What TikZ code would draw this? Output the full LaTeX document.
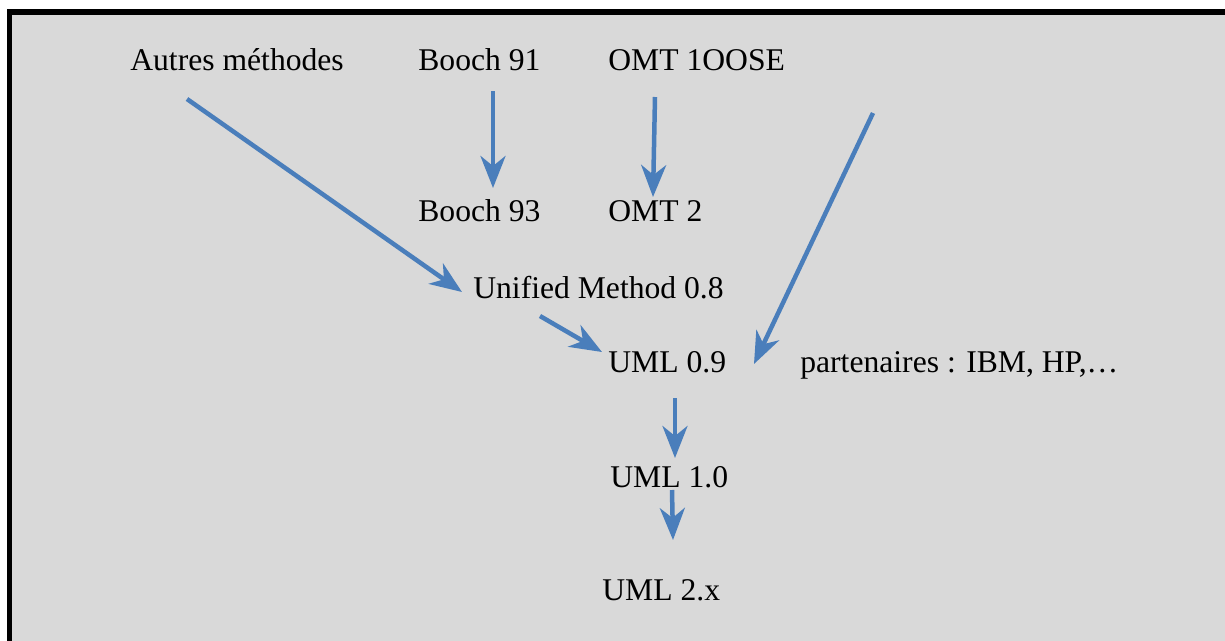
\documentclass[tikz,border=0pt]{standalone}
\usepackage{fontspec}
\setmainfont{Liberation Serif}
\usetikzlibrary{arrows.meta,calc}
\definecolor{boxgray}{RGB}{217,217,217}
\definecolor{evolblue}{RGB}{74,126,187}

\begin{document}
\begin{tikzpicture}[x=0.02cm,y=-0.02cm,
  lbl/.style={font=\fontsize{18}{22}\selectfont,inner sep=0pt,anchor=base west},
  evol/.style={draw=evolblue,line width=0.09cm,-{Stealth[length=0.64cm,width=0.5cm,inset=0.2cm]}}]
\useasboundingbox (0,0) rectangle (1225,640);
\clip (0,0) rectangle (1225,640);
\draw[fill=boxgray,line width=0.11cm] (9.5,12) rectangle (1260,680);

\node[lbl] (autres) at (130,70) {Autres méthodes};
\node[lbl] (booch91) at (418,70) {Booch 91};
\node[lbl] (omt1) at (608,70) {OMT 1OOSE};
\node[lbl] (booch93) at (418,221) {Booch 93};
\node[lbl] (omt2) at (608,221) {OMT 2};
\node[lbl] (unified) at (473,298) {Unified Method 0.8};
\node[lbl] (uml09) at (608,372) {UML 0.9};
\node[lbl] (partners) at (800,372) {partenaires : IBM, HP,…};
\node[lbl] (uml10) at (610,487) {UML 1.0};
\node[lbl] (uml2x) at (602,600) {UML 2.x};
\coordinate (ibm) at (873,113);

\draw[evol] ($(autres.base west)+(57,29)$) -- ($(unified.base west)+(-11,-6)$);
\draw[evol] ($(booch91.base west)+(75,21)$) -- ($(booch93.base west)+(75,-33)$);
\draw[evol] ($(omt1.base west)+(47,27)$) -- ($(omt2.base west)+(45,-24)$);
\draw[evol] (ibm) -- ($(uml09.base west)+(146,-8)$);
\draw[evol] ($(unified.base west)+(67,18)$) -- ($(uml09.base west)+(-6,-20)$);
\draw[evol] ($(uml09.base west)+(67,26)$) -- ($(uml10.base west)+(65,-29)$);
\draw[evol] ($(uml10.base west)+(62,3)$) -- ($(uml2x.base west)+(71,-60)$);

\end{tikzpicture}
\end{document}
